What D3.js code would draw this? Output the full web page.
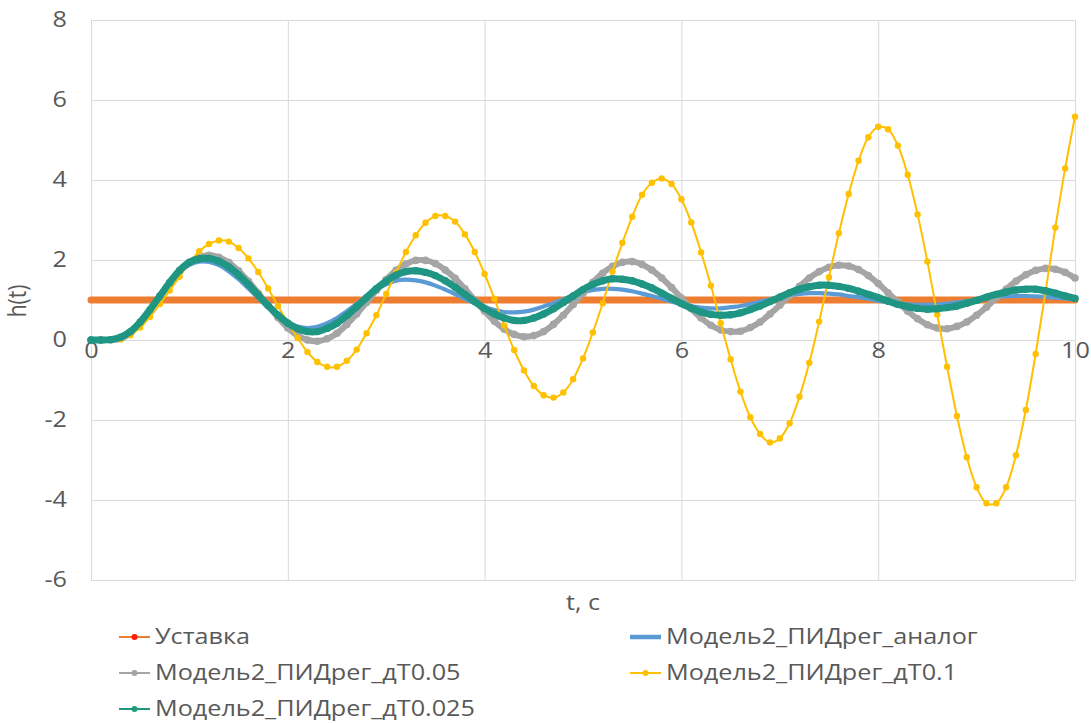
<!DOCTYPE html>
<html>
<head>
<meta charset="utf-8">
<script src="https://cdn.jsdelivr.net/npm/d3@7"></script>
<style>
  html, body { margin: 0; padding: 0; background: #ffffff; }
  svg text { font-family: "Open Sans", "Noto Sans", "DejaVu Sans", sans-serif; fill: #595959; }
</style>
</head>
<body>
<svg id="chart" width="1091" height="723"></svg>
<script>
// Time axis, seconds (sample step 0.1 s)
const time = [
  0.0, 0.1, 0.2, 0.3, 0.4, 0.5, 0.6, 0.7, 0.8, 0.9,
  1.0, 1.1, 1.2, 1.3, 1.4, 1.5, 1.6, 1.7, 1.8, 1.9,
  2.0, 2.1, 2.2, 2.3, 2.4, 2.5, 2.6, 2.7, 2.8, 2.9,
  3.0, 3.1, 3.2, 3.3, 3.4, 3.5, 3.6, 3.7, 3.8, 3.9,
  4.0, 4.1, 4.2, 4.3, 4.4, 4.5, 4.6, 4.7, 4.8, 4.9,
  5.0, 5.1, 5.2, 5.3, 5.4, 5.5, 5.6, 5.7, 5.8, 5.9,
  6.0, 6.1, 6.2, 6.3, 6.4, 6.5, 6.6, 6.7, 6.8, 6.9,
  7.0, 7.1, 7.2, 7.3, 7.4, 7.5, 7.6, 7.7, 7.8, 7.9,
  8.0, 8.1, 8.2, 8.3, 8.4, 8.5, 8.6, 8.7, 8.8, 8.9,
  9.0, 9.1, 9.2, 9.3, 9.4, 9.5, 9.6, 9.7, 9.8, 9.9,
  10.0
];

// Уставка (setpoint)
const setpoint = [
  1, 1, 1, 1, 1, 1, 1, 1, 1, 1,
  1, 1, 1, 1, 1, 1, 1, 1, 1, 1,
  1, 1, 1, 1, 1, 1, 1, 1, 1, 1,
  1, 1, 1, 1, 1, 1, 1, 1, 1, 1,
  1, 1, 1, 1, 1, 1, 1, 1, 1, 1,
  1, 1, 1, 1, 1, 1, 1, 1, 1, 1,
  1, 1, 1, 1, 1, 1, 1, 1, 1, 1,
  1, 1, 1, 1, 1, 1, 1, 1, 1, 1,
  1, 1, 1, 1, 1, 1, 1, 1, 1, 1,
  1, 1, 1, 1, 1, 1, 1, 1, 1, 1,
  1
];

// Модель2_ПИДрег_аналог
const analog = [
  0.00, 0.00, 0.01, 0.07, 0.22, 0.47, 0.78, 1.11, 1.43, 1.70,
  1.88, 1.96, 1.95, 1.87, 1.72, 1.52, 1.29, 1.05, 0.81, 0.60,
  0.44, 0.34, 0.30, 0.33, 0.42, 0.55, 0.72, 0.90, 1.09, 1.26,
  1.39, 1.48, 1.51, 1.49, 1.44, 1.36, 1.26, 1.15, 1.03, 0.92,
  0.82, 0.75, 0.70, 0.69, 0.71, 0.76, 0.84, 0.92, 1.02, 1.11,
  1.19, 1.25, 1.28, 1.28, 1.26, 1.22, 1.16, 1.10, 1.03, 0.96,
  0.89, 0.84, 0.81, 0.79, 0.79, 0.82, 0.85, 0.90, 0.96, 1.02,
  1.07, 1.12, 1.15, 1.17, 1.17, 1.16, 1.14, 1.10, 1.07, 1.03,
  0.98, 0.95, 0.92, 0.89, 0.88, 0.88, 0.89, 0.91, 0.94, 0.97,
  1.01, 1.04, 1.07, 1.09, 1.10, 1.10, 1.09, 1.08, 1.06, 1.04,
  1.01
];

// Модель2_ПИДрег_дТ0.05
const dt005 = [
  0.00, 0.00, 0.00, 0.03, 0.17, 0.42, 0.74, 1.08, 1.42, 1.72,
  1.94, 2.08, 2.12, 2.07, 1.94, 1.73, 1.47, 1.17, 0.86, 0.56,
  0.30, 0.11, 0.00, -0.03, 0.03, 0.17, 0.39, 0.65, 0.94, 1.24,
  1.51, 1.74, 1.90, 1.99, 1.99, 1.91, 1.75, 1.54, 1.28, 1.00,
  0.72, 0.47, 0.27, 0.14, 0.08, 0.11, 0.21, 0.39, 0.62, 0.89,
  1.17, 1.44, 1.67, 1.84, 1.94, 1.96, 1.89, 1.75, 1.55, 1.31,
  1.05, 0.78, 0.55, 0.37, 0.25, 0.21, 0.22, 0.31, 0.45, 0.65,
  0.87, 1.11, 1.34, 1.55, 1.71, 1.82, 1.87, 1.85, 1.76, 1.61,
  1.41, 1.18, 0.95, 0.72, 0.53, 0.38, 0.30, 0.28, 0.34, 0.45,
  0.62, 0.82, 1.05, 1.27, 1.47, 1.63, 1.74, 1.79, 1.77, 1.69,
  1.55
];

// Модель2_ПИДрег_дТ0.1
const dt01 = [
  0.00, 0.00, 0.00, 0.02, 0.12, 0.31, 0.58, 0.90, 1.24, 1.58,
  1.93, 2.22, 2.40, 2.49, 2.46, 2.30, 2.04, 1.70, 1.29, 0.85,
  0.44, 0.05, -0.30, -0.55, -0.67, -0.67, -0.52, -0.24, 0.17, 0.62,
  1.15, 1.68, 2.20, 2.62, 2.93, 3.10, 3.10, 2.96, 2.64, 2.20,
  1.65, 1.03, 0.36, -0.25, -0.76, -1.15, -1.38, -1.44, -1.31, -0.98,
  -0.46, 0.19, 0.92, 1.71, 2.43, 3.08, 3.63, 3.93, 4.04, 3.90,
  3.52, 2.94, 2.19, 1.36, 0.42, -0.48, -1.29, -1.93, -2.35, -2.56,
  -2.46, -2.08, -1.42, -0.57, 0.46, 1.57, 2.67, 3.65, 4.48, 5.07,
  5.33, 5.27, 4.86, 4.13, 3.14, 1.96, 0.64, -0.67, -1.90, -2.93,
  -3.68, -4.08, -4.08, -3.68, -2.88, -1.75, -0.35, 1.20, 2.81, 4.29,
  5.58
];

// Модель2_ПИДрег_дТ0.025
const dt0025 = [
  0.00, 0.00, 0.01, 0.07, 0.21, 0.45, 0.76, 1.10, 1.44, 1.74,
  1.94, 2.03, 2.04, 1.97, 1.83, 1.63, 1.39, 1.12, 0.86, 0.62,
  0.42, 0.28, 0.21, 0.21, 0.29, 0.42, 0.61, 0.83, 1.06, 1.28,
  1.47, 1.62, 1.71, 1.73, 1.69, 1.61, 1.48, 1.32, 1.14, 0.96,
  0.79, 0.65, 0.55, 0.49, 0.49, 0.55, 0.65, 0.78, 0.94, 1.10,
  1.26, 1.39, 1.48, 1.53, 1.52, 1.48, 1.40, 1.30, 1.17, 1.04,
  0.91, 0.80, 0.70, 0.64, 0.62, 0.63, 0.68, 0.76, 0.85, 0.96,
  1.07, 1.18, 1.27, 1.33, 1.37, 1.37, 1.34, 1.29, 1.22, 1.14,
  1.06, 0.97, 0.89, 0.83, 0.79, 0.77, 0.78, 0.81, 0.85, 0.92,
  0.99, 1.07, 1.14, 1.20, 1.25, 1.27, 1.27, 1.23, 1.17, 1.10,
  1.04
];

const seriesNames = [
  "Уставка",
  "Модель2_ПИДрег_аналог",
  "Модель2_ПИДрег_дТ0.05",
  "Модель2_ПИДрег_дТ0.1",
  "Модель2_ПИДрег_дТ0.025"
];
const seriesValues = [setpoint, analog, dt005, dt01, dt0025];

const xTicks = [0, 2, 4, 6, 8, 10];
const yTicks = [-6, -4, -2, 0, 2, 4, 6, 8];
const xTitle = "t, c";
const yTitle = "h(t)";

// ---- appearance of each series (plot line / markers / legend glyph) ----
const styles = [
  { color: "#ED7D31", width: 7,   r: 0,   legendWidth: 2,   legendDot: "#FF1A00" },
  { color: "#5B9BD5", width: 4.2, r: 0,   legendWidth: 4.5, legendDot: null },
  { color: "#A5A5A5", width: 6,   r: 3.8, legendWidth: 2,   legendDot: "#A5A5A5" },
  { color: "#FFC000", width: 2,   r: 3.2, legendWidth: 2,   legendDot: "#FFC000" },
  { color: "#1F9683", width: 7,   r: 3.7, legendWidth: 2,   legendDot: "#1E9E78" }
];

// text is set slightly wide, as in the exported chart
const FONT = "21px";
const STRETCH = 1.2;

const svg = d3.select("#chart");
const plotLeft = 91, plotRight = 1075, plotTop = 20, plotBottom = 580;

const x = d3.scaleLinear().domain([0, 10]).range([plotLeft, plotRight]);
const y = d3.scaleLinear().domain([-6, 8]).range([plotBottom, plotTop]);

// horizontal gridlines + y tick labels
const yAxis = svg.append("g")
  .attr("transform", `translate(${plotLeft},0)`)
  .call(d3.axisLeft(y).tickValues(yTicks).tickSize(-(plotRight - plotLeft))
    .tickFormat(d => d < 0 ? "-" + Math.abs(d) : String(d)));
yAxis.select(".domain").remove();
yAxis.selectAll(".tick line").attr("stroke", "#D9D9D9").attr("stroke-width", 1);
yAxis.selectAll(".tick text")
  .attr("x", 0)
  .attr("transform", `translate(-24,0) scale(${STRETCH},1)`)
  .style("font-size", FONT).attr("fill", "#595959");

// vertical gridlines
const xGrid = svg.append("g")
  .attr("transform", `translate(0,${plotBottom})`)
  .call(d3.axisBottom(x).tickValues(xTicks).tickSize(-(plotBottom - plotTop)).tickFormat(""));
xGrid.select(".domain").remove();
xGrid.selectAll(".tick line").attr("stroke", "#D9D9D9").attr("stroke-width", 1);

// x tick labels sit on the h = 0 line
const xAxis = svg.append("g")
  .attr("transform", `translate(0,${y(0)})`)
  .call(d3.axisBottom(x).tickValues(xTicks).tickSize(0).tickPadding(3));
xAxis.select(".domain").remove();
xAxis.selectAll(".tick text")
  .attr("transform", `scale(${STRETCH},1)`)
  .style("font-size", FONT).attr("fill", "#595959");

// axis titles
svg.append("text")
  .attr("transform", `translate(${(plotLeft + plotRight) / 2},610) scale(${STRETCH},1)`)
  .attr("text-anchor", "middle")
  .style("font-size", FONT)
  .text(xTitle);

svg.append("text")
  .attr("transform", `translate(26,301) rotate(-90) scale(1,${STRETCH})`)
  .attr("text-anchor", "middle")
  .style("font-size", FONT)
  .text(yTitle);

// series
const plot = svg.append("g");
const line = d3.line()
  .x(d => x(d[0]))
  .y(d => y(d[1]))
  .curve(d3.curveCatmullRom.alpha(0.5));

seriesValues.forEach((vals, i) => {
  const pts = time.map((t, k) => [t, vals[k]]);
  const st = styles[i];
  const g = plot.append("g");
  g.append("path")
    .datum(pts)
    .attr("fill", "none")
    .attr("stroke", st.color)
    .attr("stroke-width", st.width)
    .attr("stroke-linejoin", "round")
    .attr("stroke-linecap", "round")
    .attr("d", line);
  if (st.r > 0) {
    g.selectAll("circle")
      .data(pts)
      .join("circle")
      .attr("cx", d => x(d[0]))
      .attr("cy", d => y(d[1]))
      .attr("r", st.r)
      .attr("fill", st.color);
  }
});

// legend
const legendCols = [119, 630];
const legendRows = [637, 673, 709];
const legend = svg.append("g");
seriesNames.forEach((name, i) => {
  const cx = legendCols[i % 2];
  const cy = legendRows[Math.floor(i / 2)];
  const st = styles[i];
  const item = legend.append("g").attr("transform", `translate(${cx},${cy})`);
  item.append("line")
    .attr("x1", 0).attr("x2", 31)
    .attr("y1", 0).attr("y2", 0)
    .attr("stroke", st.color)
    .attr("stroke-width", st.legendWidth);
  if (st.legendDot) {
    item.append("circle")
      .attr("cx", 15.5).attr("cy", 0).attr("r", 3)
      .attr("fill", st.legendDot);
  }
  item.append("text")
    .attr("transform", `translate(36,0) scale(${STRETCH},1)`)
    .attr("dy", "0.35em")
    .style("font-size", FONT)
    .text(name);
});
</script>
</body>
</html>
